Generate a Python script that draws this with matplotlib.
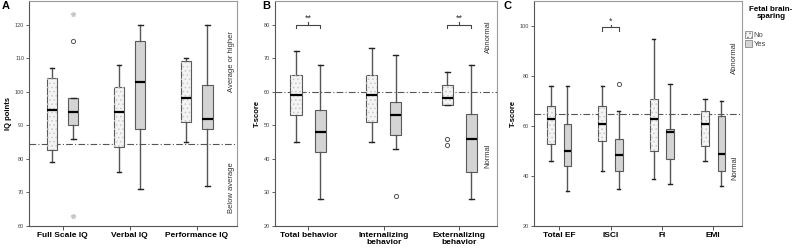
import matplotlib
matplotlib.use("Agg")
import matplotlib.pyplot as plt
from matplotlib.patches import Patch

plt.rcParams['font.family'] = ['Liberation Sans', 'DejaVu Sans']
plt.rcParams['hatch.linewidth'] = 0.6

# ---- data ----
groups = ["No", "Yes"]

iq_cats = ["Full Scale IQ", "Verbal IQ", "Performance IQ"]
iq_whislo = [[79, 86], [76, 71], [85, 72]]
iq_q1 = [[82.5, 90], [83.5, 89], [91, 89]]
iq_med = [[94.5, 94], [94, 103], [98, 92]]
iq_q3 = [[104, 98], [101.5, 115], [109, 102]]
iq_whishi = [[107, 98], [108, 120], [110, 120]]
iq_out = [[[], [115]], [[], []], [[], []]]
iq_extreme = [[[], [123, 63]], [[], []], [[], []]]

beh_cats = ["Total behavior", "Internalizing\nbehavior", "Externalizing\nbehavior"]
beh_whislo = [[45, 28], [45, 43], [56, 28]]
beh_q1 = [[53, 42], [51, 47], [56, 36]]
beh_med = [[59, 48], [59, 53], [58, 46]]
beh_q3 = [[65, 54.5], [65, 57], [62, 53.5]]
beh_whishi = [[72, 68], [73, 71], [66, 68]]
beh_out = [[[], []], [[], [29]], [[46, 44], []]]

ef_cats = ["Total EF", "ISCI", "FI", "EMI"]
ef_whislo = [[46, 34], [42, 35], [39, 37], [46, 36]]
ef_q1 = [[53, 44], [54, 42], [50, 47], [52, 42]]
ef_med = [[63, 50], [61, 48.5], [63, 57.5], [61, 49]]
ef_q3 = [[68, 61], [68, 55], [71, 59], [66, 64]]
ef_whishi = [[76, 76], [76, 66], [95, 77], [71, 70]]
ef_out = [[[], []], [[], [77]], [[], []], [[], []]]

NO_FILL = "#f4f4f4"
YES_FILL = "#d4d4d4"
EDGE = "#5a5a5a"
OFFSET = 0.16
WIDTH = 0.15


def draw_panel(ax, cats, wlo, q1, med, q3, whi, outl, extreme=None):
    stats, pos = [], []
    for i in range(len(cats)):
        for g in range(2):
            stats.append(dict(med=med[i][g], q1=q1[i][g], q3=q3[i][g],
                              whislo=wlo[i][g], whishi=whi[i][g],
                              fliers=outl[i][g]))
            pos.append(i + 1 + (-OFFSET if g == 0 else OFFSET))
    res = ax.bxp(stats, positions=pos, widths=WIDTH, patch_artist=True,
                 boxprops=dict(edgecolor=EDGE, linewidth=0.8),
                 whiskerprops=dict(color="#555555", linewidth=1.0),
                 capprops=dict(color="#222222", linewidth=1.0),
                 medianprops=dict(color="black", linewidth=1.6),
                 flierprops=dict(marker="o", markersize=3, markerfacecolor="none",
                                 markeredgecolor="#555555", markeredgewidth=0.7),
                 capwidths=WIDTH * 0.45, zorder=2)
    for k, box in enumerate(res["boxes"]):
        if k % 2 == 0:
            box.set_facecolor(NO_FILL)
            # dotted texture on the "No" boxes
            x0, x1 = pos[k] - WIDTH / 2, pos[k] + WIDTH / 2
            i = k // 2
            ax.fill_between([x0, x1], q1[i][0], q3[i][0], facecolor="none",
                            edgecolor="#c8c8c8", hatch="....", linewidth=0, zorder=2.1)
        else:
            box.set_facecolor(YES_FILL)
    for m in res["medians"]:
        m.set_zorder(3)
    if extreme is not None:
        for i in range(len(cats)):
            for g in range(2):
                vals = extreme[i][g]
                if vals:
                    p = pos[2 * i + g]
                    ax.plot([p] * len(vals), vals, ls="none", marker="*", ms=3.5,
                            color="#c8c8c8", zorder=3)
    ax.set_xticks(range(1, len(cats) + 1))
    ax.set_xticklabels(cats, fontsize=6, fontweight="bold", linespacing=0.95)
    ax.tick_params(axis="y", labelsize=4, colors="#444444", length=2.5, width=0.6, pad=1)
    ax.tick_params(axis="x", length=3, width=0.6, pad=1.5, colors="#333333")
    for lab in ax.get_xticklabels():
        lab.set_color("black")
    for s in ax.spines.values():
        s.set_color("#9a9a9a")
        s.set_linewidth(0.8)
    ax.spines["left"].set_color("#555555")
    ax.spines["bottom"].set_color("#555555")


def bracket(ax, x0, x1, y, h, label, fs=6.5):
    ax.plot([x0, x0, x1, x1], [y - h, y, y, y - h], color="#444444", lw=0.8)
    xm = (x0 + x1) / 2
    ax.plot([xm, xm], [y, y + h * 0.7], color="#444444", lw=0.8)
    ax.text(xm, y + h * 0.4, label, ha="center", va="bottom", fontsize=fs, color="#333333")


fig = plt.figure(figsize=(7.95, 2.5), dpi=100)

# ---- Panel A ----
axA = fig.add_axes([29 / 795, 24 / 250, 208 / 795, 225 / 250])
draw_panel(axA, iq_cats, iq_whislo, iq_q1, iq_med, iq_q3, iq_whishi, iq_out, iq_extreme)
axA.set_xlim(0.5, 3.6)
axA.set_ylim(60, 127)
axA.set_yticks(range(60, 121, 10))
axA.axhline(84.5, color="#555555", lw=0.8, ls=(0, (6, 2, 1, 2)), zorder=1)
axA.set_ylabel("IQ points", fontsize=5.5, fontweight="bold", labelpad=2)
axA.text(0.974, 0.73, "Average or higher", transform=axA.transAxes, rotation=90,
         ha="center", va="center", fontsize=5.5, color="#333333")
axA.text(0.974, 0.17, "Below average", transform=axA.transAxes, rotation=90,
         ha="center", va="center", fontsize=5.5, color="#333333")
fig.text(2 / 795, 1 - 1 / 250, "A", fontsize=8, fontweight="bold", va="top")

# ---- Panel B ----
axB = fig.add_axes([275 / 795, 24 / 250, 222 / 795, 225 / 250])
draw_panel(axB, beh_cats, beh_whislo, beh_q1, beh_med, beh_q3, beh_whishi, beh_out)
axB.set_xlim(0.56, 3.5)
axB.set_ylim(20, 87)
axB.set_yticks(range(20, 81, 10))
axB.axhline(60, color="#555555", lw=0.8, ls=(0, (6, 2, 1, 2)), zorder=1)
axB.set_ylabel("T-score", fontsize=5.5, fontweight="bold", labelpad=2)
axB.text(0.96, 0.84, "Abnormal", transform=axB.transAxes, rotation=90,
         ha="center", va="center", fontsize=5.5, color="#333333")
axB.text(0.96, 0.31, "Normal", transform=axB.transAxes, rotation=90,
         ha="center", va="center", fontsize=5.5, color="#333333")
bracket(axB, 1 - OFFSET, 1 + OFFSET, 80, 1.0, "**")
bracket(axB, 3 - OFFSET, 3 + OFFSET, 80, 1.0, "**")
fig.text(262 / 795, 1 - 1 / 250, "B", fontsize=8, fontweight="bold", va="top")

# ---- Panel C ----
axC = fig.add_axes([534 / 795, 24 / 250, 208 / 795, 225 / 250])
draw_panel(axC, ef_cats, ef_whislo, ef_q1, ef_med, ef_q3, ef_whishi, ef_out)
axC.set_xlim(0.51, 4.56)
axC.set_ylim(20, 110)
axC.set_yticks(range(20, 101, 20))
axC.axhline(65, color="#555555", lw=0.8, ls=(0, (6, 2, 1, 2)), zorder=1)
axC.set_ylabel("T-score", fontsize=5.5, fontweight="bold", labelpad=2)
axC.text(0.966, 0.75, "Abnormal", transform=axC.transAxes, rotation=90,
         ha="center", va="center", fontsize=5.5, color="#333333")
axC.text(0.966, 0.26, "Normal", transform=axC.transAxes, rotation=90,
         ha="center", va="center", fontsize=5.5, color="#333333")
bracket(axC, 2 - OFFSET, 2 + OFFSET, 99.5, 1.3, "*")
fig.text(503 / 795, 1 - 1 / 250, "C", fontsize=8, fontweight="bold", va="top")

# ---- legend ----
fig.text(771 / 795, 1 - 6 / 250, "Fetal brain-\nsparing", ha="center", va="top",
         fontsize=5.8, fontweight="bold", linespacing=1.1)
handles = [Patch(facecolor=NO_FILL, edgecolor="#888888", hatch="....", lw=0.6),
           Patch(facecolor=YES_FILL, edgecolor="#888888", lw=0.6)]
leg = fig.legend(handles, groups, loc="upper left", bbox_to_anchor=(740 / 795, 1 - 26 / 250),
                 frameon=False, fontsize=5.5,
                 handlelength=0.9, handleheight=0.9, handletextpad=0.2,
                 labelspacing=0.15, borderpad=0.2)
for t in leg.get_texts():
    t.set_color("#444444")

fig.savefig("out.png", dpi=100)
